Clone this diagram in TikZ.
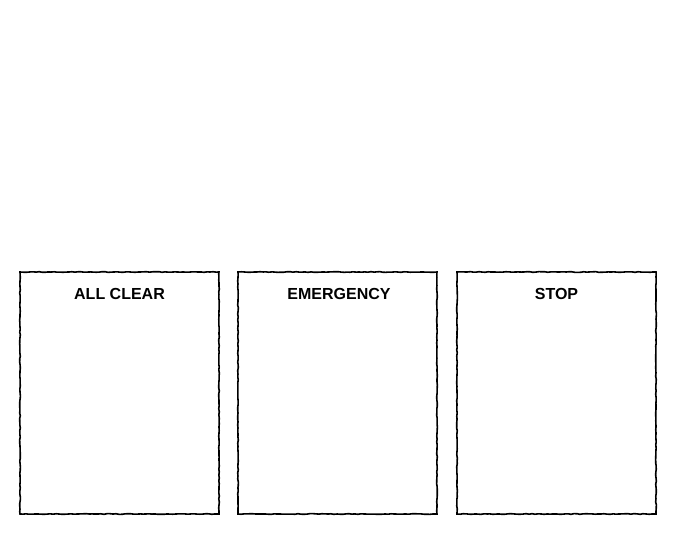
\documentclass[tikz,border=0pt]{standalone}
\usepackage{fontspec}
\setmainfont{Liberation Sans}
\usetikzlibrary{decorations.pathmorphing}
\begin{document}
\begin{tikzpicture}[x=1pt,y=-1pt,
  panel/.style={draw=black,line width=1.6pt,fill=white,
    decorate,decoration={random steps,segment length=3pt,amplitude=0.35pt}},
  paneltitle/.style={font=\fontsize{16}{19}\selectfont\bfseries,anchor=center}]
\useasboundingbox (0,0) rectangle (676,534);
\draw[panel] (20,272) rectangle (219,514);
\draw[panel] (238,272) rectangle (437,514);
\draw[panel] (457,272) rectangle (656,514);
\node[paneltitle] (t1) at (119.5,294) {ALL CLEAR};
\node[paneltitle] (t2) at (339,294) {EMERGENCY};
\node[paneltitle] (t3) at (556.5,294) {STOP};
\end{tikzpicture}
\end{document}
